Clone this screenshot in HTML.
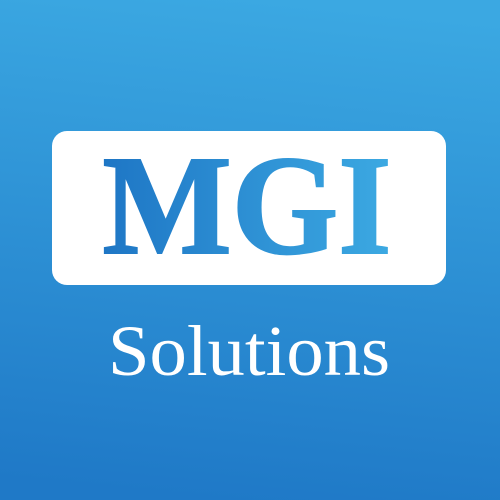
<!DOCTYPE html>
<html><head><meta charset="utf-8"><style>
html,body{margin:0;padding:0;width:500px;height:500px;overflow:hidden}
</style></head><body>
<svg width="500" height="500" viewBox="0 0 500 500">
<defs>
<linearGradient id="bg" x1="0.55" y1="0" x2="0.45" y2="1">
<stop offset="0" stop-color="#3ba8e2"/>
<stop offset="1" stop-color="#1f79c7"/>
</linearGradient>
<linearGradient id="tx" x1="0" y1="0" x2="1" y2="0">
<stop offset="0" stop-color="#1e76c5"/>
<stop offset="1" stop-color="#3ca9e2"/>
</linearGradient>
</defs>
<rect x="0" y="0" width="500" height="500" fill="url(#bg)"/>
<rect x="52" y="131" width="394" height="154" rx="15" fill="#ffffff"/>
<text x="247" y="253" text-anchor="middle" font-family="Liberation Serif, serif" font-weight="bold" font-size="142" fill="url(#tx)" stroke="url(#tx)" stroke-width="2" textLength="289" lengthAdjust="spacingAndGlyphs">MGI</text>
<text x="249" y="375" text-anchor="middle" font-family="Liberation Serif, serif" font-size="72" fill="#ffffff" textLength="282" lengthAdjust="spacingAndGlyphs">Solutions</text>
</svg>
</body></html>
